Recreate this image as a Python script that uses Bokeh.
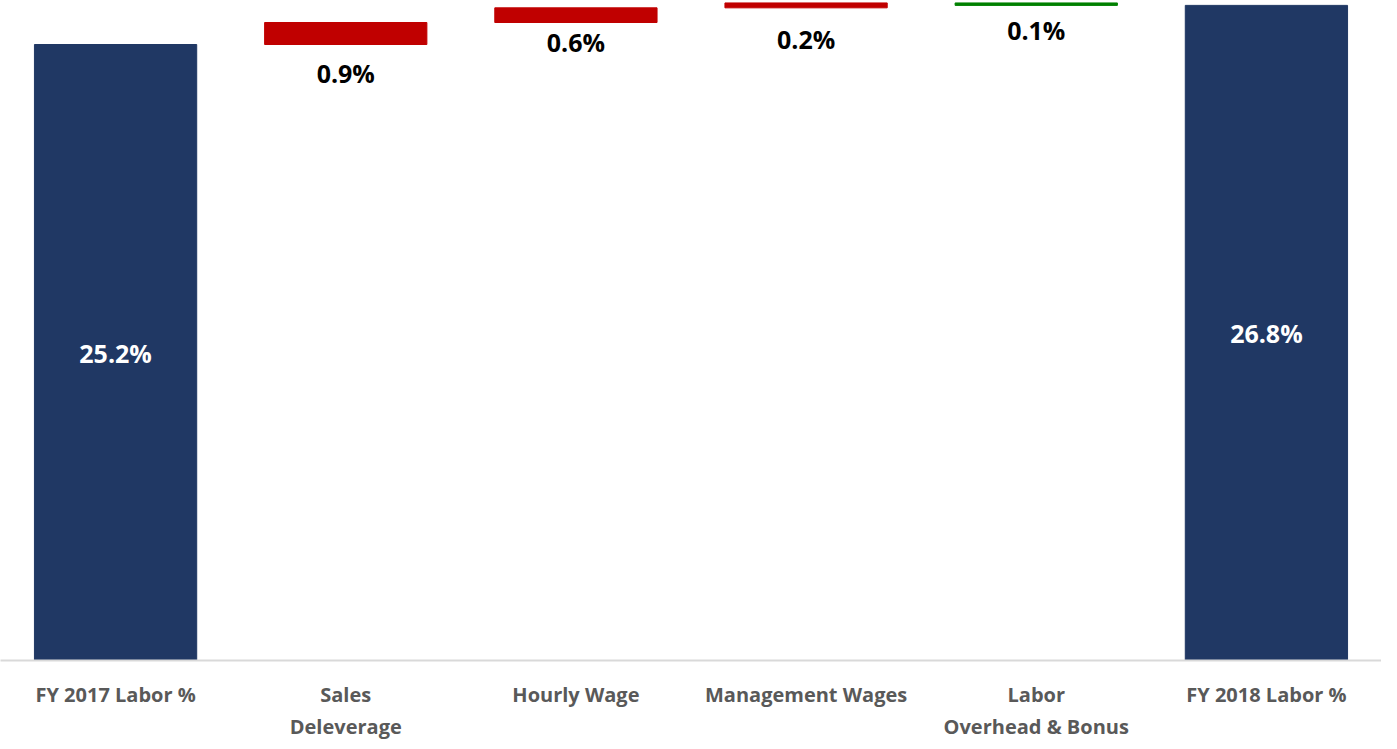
from bokeh.plotting import figure
from bokeh.models import ColumnDataSource
from bokeh.embed import file_html
from bokeh.resources import INLINE
from bokeh.core.properties import value

# ---- data ----
categories = ["FY 2017 Labor %", "Sales\nDeleverage", "Hourly Wage",
              "Management Wages", "Labor\nOverhead & Bonus", "FY 2018 Labor %"]
start_value = 25.2
changes = [0.9, 0.6, 0.2, -0.1]
end_value = 26.8

# ---- style ----
NAVY = "#203864"
RED = "#C00000"
GREEN = "#008000"
FONT = "Open Sans"
label_offsets = [28, 19, 31, 25]  # px below each floating bar

# ---- build waterfall ----
bottoms, tops, colors = [0.0], [start_value], [NAVY]
level = start_value
for c in changes:
    new = level + c
    bottoms.append(min(level, new))
    tops.append(max(level, new))
    colors.append(RED if c > 0 else GREEN)
    level = new
bottoms.append(0.0)
tops.append(end_value)
colors.append(NAVY)

src = ColumnDataSource(dict(x=categories, bottom=bottoms, top=tops, color=colors))

p = figure(x_range=categories, y_range=(0, 27.0),
           frame_width=1381, frame_height=660,
           output_backend="svg", toolbar_location=None,
           y_axis_type=None, min_border=0, outline_line_color=None)
p.vbar(x="x", bottom="bottom", top="top", width=0.705, color="color", source=src)

# totals inside the navy bars
tot_src = ColumnDataSource(dict(
    x=[categories[0], categories[-1]],
    y=[start_value / 2, end_value / 2],
    t=["%.1f%%" % start_value, "%.1f%%" % end_value]))
p.text(x="x", y="y", text="t", source=tot_src, text_color="white",
       text_font=value(FONT), text_font_style="bold", text_font_size="25px",
       text_align="center", text_baseline="middle")

# change labels below floating bars
for i, c in enumerate(changes):
    cat = categories[i + 1]
    p.text(x=[cat], y=[bottoms[i + 1]], text=["%.1f%%" % abs(c)],
           y_offset=label_offsets[i], text_color="black",
           text_font=value(FONT), text_font_style="bold", text_font_size="25px",
           text_align="center", text_baseline="middle")

p.xgrid.visible = False
p.ygrid.visible = False
ax = p.xaxis[0]
ax.axis_line_color = "#d9d9d9"
ax.axis_line_width = 2
ax.major_tick_line_color = None
ax.minor_tick_line_color = None
ax.major_tick_out = 0
ax.major_label_standoff = 20
ax.major_label_text_font = FONT
ax.major_label_text_font_style = "bold"
ax.major_label_text_font_size = "20px"
ax.major_label_text_color = "#595959"

open("out.html", "w").write(file_html(p, INLINE))
